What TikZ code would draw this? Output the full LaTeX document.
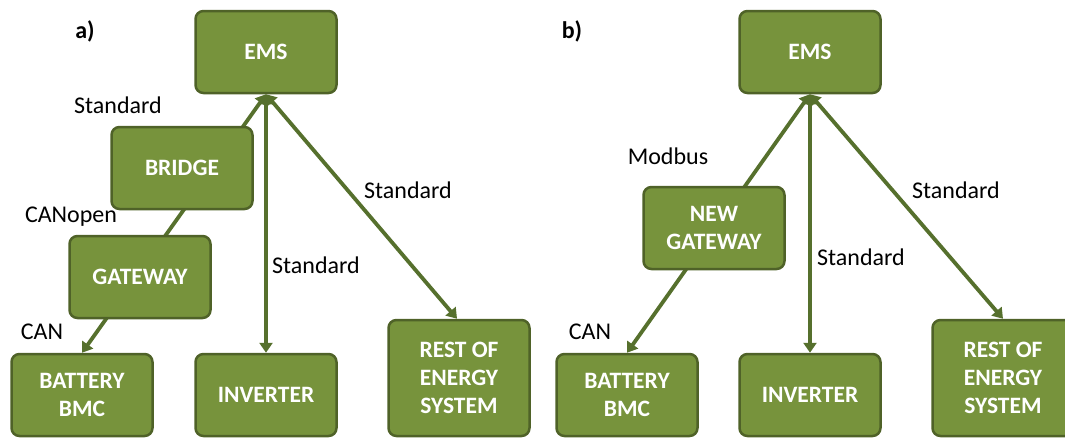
\documentclass[tikz,border=0pt]{standalone}
\usepackage{fontspec}
\setmainfont{Carlito}
\usetikzlibrary{arrows.meta,backgrounds}
\definecolor{boxfill}{HTML}{77933C}
\definecolor{boxline}{HTML}{4F6228}
\definecolor{arrowcol}{HTML}{56702D}
\tikzset{
  box/.style={draw=boxline, fill=boxfill, line width=2.5pt, rounded corners=8pt,
    minimum width=141pt, minimum height=82pt, text=white, align=center,
    font=\fontsize{23.5}{28}\selectfont\bfseries, inner sep=0pt},
  tallbox/.style={box, minimum height=116pt},
  lbl/.style={font=\fontsize{24}{28}\selectfont, text=black, inner sep=0pt},
  boldlbl/.style={lbl, font=\fontsize{24}{28}\selectfont\bfseries},
  conn/.style={draw=arrowcol, line width=3.8pt,
    {Triangle[width=13pt,length=10pt]}-{Triangle[width=13pt,length=10pt]}}
}
\begin{document}
\begin{tikzpicture}[x=1pt,y=-1pt]
\useasboundingbox (0,0) rectangle (1065,439);
\clip (0,0) rectangle (1065,439);
% panel a
\node[box] (emsA) at (266,52) {EMS};
\node[box] (bridge) at (182,168) {BRIDGE};
\node[box] (gw) at (140,277) {GATEWAY};
\node[box] (batA) at (82,395) {BATTERY\\BMC};
\node[box] (invA) at (266,395) {INVERTER};
\node[tallbox] (restA) at (459,378) {REST OF\\ENERGY\\SYSTEM};
% panel b
\node[box] (emsB) at (810,52) {EMS};
\node[box] (ngw) at (714,228) {NEW\\GATEWAY};
\node[box] (batB) at (627,395) {BATTERY\\BMC};
\node[box] (invB) at (810,395) {INVERTER};
\node[tallbox] (restB) at (1003,378) {REST OF\\ENERGY\\SYSTEM};
% labels
\node[boldlbl] (la) at (85,31) {a)};
\node[boldlbl] (lb) at (572,31) {b)};
\node[lbl] (s1) at (118,105) {Standard};
\node[lbl] (s2) at (71,217) {CANopen};
\node[lbl] (s3) at (42,332) {CAN};
\node[lbl] (s4) at (316,265) {Standard};
\node[lbl] (s5) at (408,190) {Standard};
\node[lbl] (s6) at (668,156) {Modbus};
\node[lbl] (s7) at (590,332) {CAN};
\node[lbl] (s8) at (861,257) {Standard};
\node[lbl] (s9) at (956,190) {Standard};
\begin{pgfonlayer}{background}
\draw[conn] (emsA.south) -- (batA.north);
\draw[conn] (emsA.south) -- (invA.north);
\draw[conn] (emsA.south) -- ([xshift=-2pt]restA.north);
\draw[conn] (emsB.south) -- (batB.north);
\draw[conn] (emsB.south) -- (invB.north);
\draw[conn] (emsB.south) -- (restB.north);
\end{pgfonlayer}
\end{tikzpicture}
\end{document}
